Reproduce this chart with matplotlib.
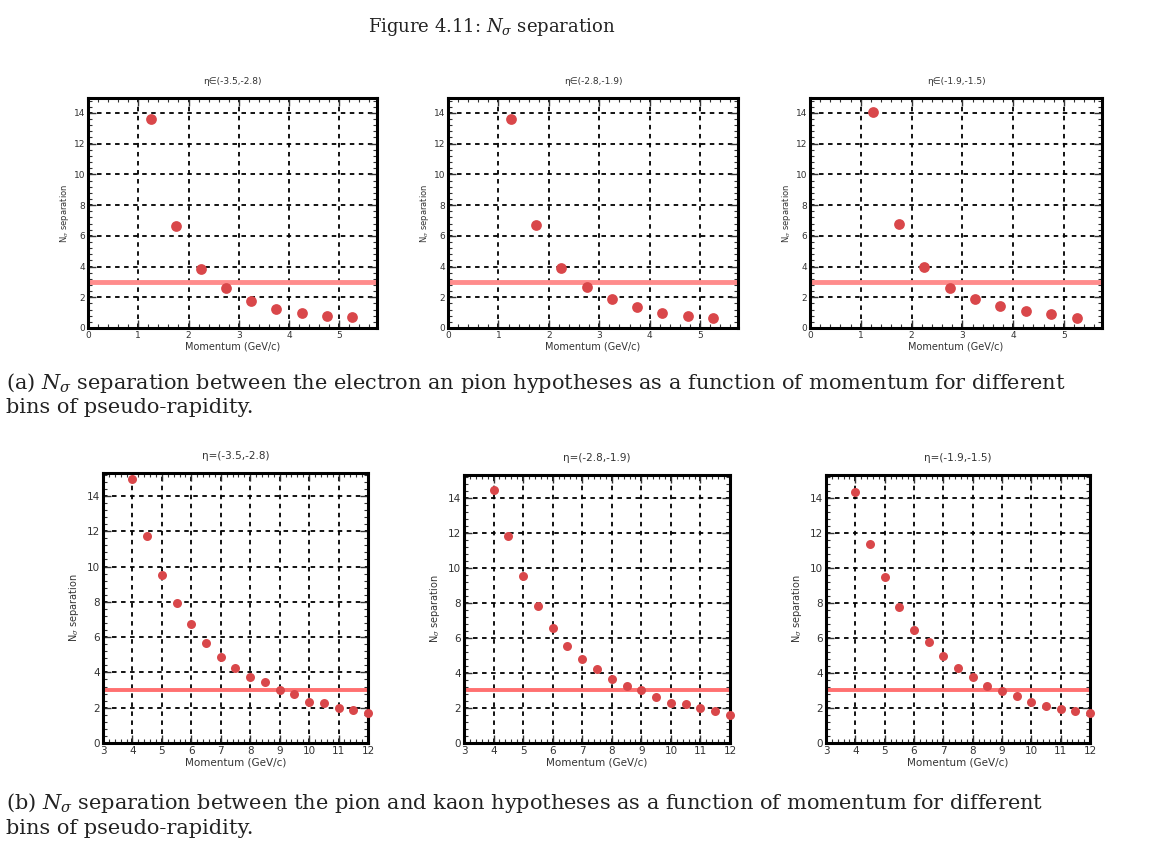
import matplotlib
matplotlib.use("Agg")
import matplotlib.pyplot as plt
from matplotlib.ticker import MultipleLocator

plt.rcParams['mathtext.fontset'] = 'dejavuserif'

W, H = 1169, 856

eta_titles = ["η∈(-3.5,-2.8)", "η∈(-2.8,-1.9)", "η∈(-1.9,-1.5)"]

# (a) electron-pion separation
p_a = [1.25, 1.75, 2.25, 2.75, 3.25, 3.75, 4.25, 4.75, 5.25]
sep_a = [
    [13.6, 6.65, 3.85, 2.6, 1.75, 1.25, 1.0, 0.78, 0.7],
    [13.6, 6.7, 3.9, 2.65, 1.9, 1.38, 1.0, 0.8, 0.65],
    [14.05, 6.75, 4.0, 2.6, 1.9, 1.4, 1.08, 0.88, 0.66],
]

# (b) pion-kaon separation
p_b = [4.0, 4.5, 5.0, 5.5, 6.0, 6.5, 7.0, 7.5, 8.0, 8.5, 9.0, 9.5, 10.0, 10.5, 11.0, 11.5, 12.0]
sep_b = [
    [14.95, 11.75, 9.5, 7.95, 6.75, 5.65, 4.9, 4.25, 3.75, 3.45, 3.0, 2.75, 2.35, 2.25, 2.0, 1.85, 1.7],
    [14.45, 11.8, 9.55, 7.8, 6.55, 5.55, 4.8, 4.25, 3.65, 3.25, 3.0, 2.6, 2.3, 2.25, 2.0, 1.85, 1.6],
    [14.35, 11.35, 9.5, 7.75, 6.45, 5.75, 4.95, 4.3, 3.75, 3.25, 2.95, 2.7, 2.35, 2.1, 1.95, 1.8, 1.7],
]
threshold = 3.0

fig = plt.figure(figsize=(W / 100, H / 100), dpi=100)

def add_ax(l, r, t, b):
    return fig.add_axes([l / W, 1 - b / H, (r - l) / W, (b - t) / H])

top_boxes = [(88, 377, 98, 328), (448, 738, 98, 328), (810, 1102, 98, 328)]
bot_boxes = [(103, 368, 473, 743), (464, 730, 475, 743), (826, 1090, 475, 743)]

def style(ax, xmaj, xmin, fs):
    ax.xaxis.set_major_locator(MultipleLocator(xmaj))
    ax.xaxis.set_minor_locator(MultipleLocator(xmin))
    ax.yaxis.set_major_locator(MultipleLocator(2))
    ax.yaxis.set_minor_locator(MultipleLocator(0.4))
    ax.tick_params(which='both', direction='in', top=True, right=True,
                   labelsize=fs, colors='#333333', pad=2)
    ax.tick_params(which='major', length=6, width=1.0)
    ax.tick_params(which='minor', length=3, width=0.8)
    ax.grid(True, which='major', color='black', linestyle=(0, (2.5, 2.5)), linewidth=1.3)
    for s in ax.spines.values():
        s.set_linewidth(2.2)
    ax.set_axisbelow(True)

for i, box in enumerate(top_boxes):
    ax = add_ax(*box)
    ax.set_xlim(0, 5.75)
    ax.set_ylim(0, 14.97)
    style(ax, 1, 0.2, 6.5)
    ax.axhline(threshold, color='#ff8c8c', linewidth=3.5, zorder=2)
    ax.scatter(p_a, sep_a[i], s=60, color='#d9474a', zorder=3, linewidths=0, clip_on=False)
    ax.set_title(eta_titles[i], fontsize=6.5, color='#333333', pad=10)
    ax.set_xlabel("Momentum (GeV/c)", fontsize=7, color='#333333', labelpad=1)
    ax.set_ylabel(r"N$_\sigma$ separation", fontsize=6, color='#333333', labelpad=2)

for i, box in enumerate(bot_boxes):
    ax = add_ax(*box)
    ax.set_xlim(3, 12)
    ax.set_ylim(0, 15.3)
    style(ax, 1, 0.2, 7.5)
    ax.axhline(threshold, color='#ff7070', linewidth=2.8, zorder=2)
    ax.scatter(p_b, sep_b[i], s=42, color='#d9474a', zorder=3, linewidths=0, clip_on=False)
    ax.set_title(eta_titles[i].replace("∈", "="), fontsize=7.5, color='#333333', pad=10)
    ax.set_xlabel("Momentum (GeV/c)", fontsize=7.5, color='#333333', labelpad=1)
    ax.set_ylabel(r"N$_\sigma$ separation", fontsize=7, color='#333333', labelpad=4)

serif = dict(family='DejaVu Serif', color='#222222')
fig.text(492 / W, 1 - 27 / H, r"Figure 4.11: $N_\sigma$ separation",
         ha='center', va='center', fontsize=13, **serif)

cap_a = [r"(a) $N_\sigma$ separation between the electron an pion hypotheses as a function of momentum for different",
         "bins of pseudo-rapidity."]
cap_b = [r"(b) $N_\sigma$ separation between the pion and kaon hypotheses as a function of momentum for different",
         "bins of pseudo-rapidity."]
for txt, y in [(cap_a[0], 383), (cap_a[1], 408), (cap_b[0], 803), (cap_b[1], 828)]:
    fig.text(6 / W, 1 - y / H, txt, ha='left', va='center', fontsize=15, **serif)

fig.savefig("out.png", dpi=100, facecolor='white')
